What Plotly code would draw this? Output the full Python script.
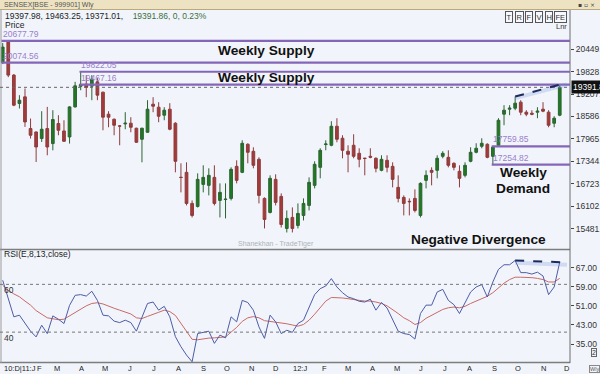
import pandas as pd
import plotly.graph_objects as go

# ---------------- data ----------------
dates = pd.date_range("2010-12-31", periods=101, freq="7D")

opens = [20075, 20643, 19729, 18945, 19128, 18252, 18158, 17976, 18252, 17837,
         18391, 18186, 18020, 18851, 19420, 19480, 19424, 19543, 19258, 18649,
         18510, 18325, 18380, 18399, 18261, 17956, 18150, 18925, 18842, 18621,
         18787, 18399, 16905, 17042, 16183, 16100, 16709, 16682, 16903, 16266,
         16290, 16322, 17208, 17042, 17817, 17624, 17402, 16322, 15934, 16848,
         16377, 15491, 15796, 15574, 15851, 16128, 16682, 17180, 17810, 17790,
         18316, 17984, 17624, 17790, 17568, 17435, 17485, 17430, 17097, 17374,
         17208, 16627, 16349, 16240, 16322, 15851, 16820, 17097, 17097, 17485,
         17457, 17291, 17070, 16959, 17347, 17596, 17762, 17817, 17485, 17790,
         18649, 18787, 18815, 18981, 18704, 18676, 18704, 18787, 18704, 18399,
         18621]
highs = [20615, 20678, 19760, 19175, 19360, 18529, 18170, 18732, 18851, 18759,
         18621, 18482, 18870, 19543, 19822, 19729, 19729, 19646, 19270, 18732,
         18530, 18344, 18704, 18566, 18275, 18275, 19036, 19119, 18981, 18842,
         18953, 18427, 17291, 17319, 16266, 17014, 17236, 17153, 17236, 16737,
         16737, 17180, 17374, 17928, 17845, 17734, 17457, 16349, 16959, 16987,
         16460, 15989, 16073, 16183, 16322, 16903, 17347, 17707, 17928, 18455,
         18538, 18067, 17790, 18094, 17707, 17440, 17707, 17457, 17513, 17513,
         17319, 16959, 16405, 16322, 16571, 16765, 17097, 17180, 17513, 17624,
         17651, 17319, 17236, 17319, 17734, 17845, 17984, 17845, 17760, 18538,
         18898, 18898, 19137, 19036, 18759, 18759, 18842, 18981, 18759, 18593,
         19463.25]
lows = [20034, 19673, 18870, 18806, 18297, 17976, 17327, 17881, 17513, 17651,
        18067, 17881, 17837, 18830, 19310, 19119, 19036, 19036, 18205, 18288,
        18067, 17790, 18233, 18150, 17860, 17319, 18140, 18704, 18427, 18482,
        18205, 17042, 16488, 16128, 15796, 16070, 16488, 16405, 16128, 15796,
        15768, 16266, 16737, 17020, 17291, 17153, 16183, 15491, 15906, 16128,
        15518, 15380, 15380, 15491, 15712, 15989, 16599, 16876, 17651, 17762,
        17873, 17430, 17042, 17430, 17180, 16959, 17430, 17042, 17070, 17042,
        16627, 16211, 15851, 15851, 15934, 15796, 16599, 16682, 16876, 17430,
        17180, 17097, 16627, 16903, 17319, 17568, 17707, 17430, 17255, 17762,
        18344, 18621, 18759, 18621, 18593, 18621, 18538, 18704, 18288, 18288,
        18593]
closes = [20504, 19729, 18898, 19036, 18435, 18067, 17743, 18233, 17743, 18502,
          18205, 17901, 18851, 19433, 19467, 19390, 19618, 19175, 18566, 18566,
          18344, 18320, 18400, 18288, 17873, 18261, 18787, 18870, 18593, 18759,
          18233, 17347, 16900, 16183, 15851, 16848, 16903, 16959, 16183, 16488,
          16300, 17125, 16820, 17845, 17596, 17236, 16405, 15740, 16876, 16211,
          15601, 15768, 15491, 15906, 16183, 16765, 17264, 17651, 17825, 18316,
          17956, 17651, 17540, 17485, 17402, 17425, 17460, 17152, 17402, 17180,
          16848, 16322, 16183, 16230, 15989, 16737, 16959, 17042, 17430, 17568,
          17236, 17180, 16876, 17236, 17596, 17707, 17845, 17457, 17740, 18482,
          18759, 18815, 18953, 18704, 18649, 18649, 18732, 18732, 18344, 18538,
          19391.86]

rsi = [61.7, 54.0, 46.4, 47.1, 43.6, 40.4, 38.0, 42.9, 39.4, 46.8,
       45.4, 43.6, 51.2, 55.4, 55.7, 55.1, 57.1, 53.3, 47.1, 46.8,
       44.6, 44.0, 45.0, 44.0, 40.4, 46.4, 52.0, 52.6, 49.2, 50.8,
       46.4, 38.1, 33.9, 30.4, 27.6, 39.4, 39.9, 40.4, 35.3, 38.75,
       37.6, 46.4, 44.3, 53.3, 52.4, 49.2, 42.2, 37.4, 47.1, 44.3,
       39.4, 40.8, 39.9, 43.6, 45.0, 50.6, 55.7, 58.2, 59.3, 62.4,
       58.9, 56.5, 54.7, 54.0, 52.9, 52.6, 53.8, 49.2, 52.4, 50.1,
       45.4, 40.4, 39.4, 39.0, 37.1, 47.8, 51.3, 51.3, 56.8, 57.9,
       53.3, 51.5, 47.8, 52.0, 56.8, 58.9, 59.9, 54.7, 61.0, 66.25,
       68.2, 68.2, 70.0, 64.9, 64.9, 64.3, 65.1, 63.5, 55.7, 58.9,
       69.3]
rsi_ma = [59.6, 57.5, 56.0, 54.8, 53.0, 51.3, 49.0, 47.5, 46.0, 45.6,
          45.2, 45.4, 46.8, 48.3, 49.5, 51.0, 52.0, 52.3, 51.8, 50.8,
          50.0, 49.2, 48.5, 47.6, 46.0, 45.7, 46.6, 47.6, 48.3, 49.2,
          48.6, 47.0, 43.5, 40.0, 37.0, 36.8, 37.2, 37.5, 37.6, 37.8,
          38.0, 40.0, 42.0, 44.5, 46.0, 46.5, 46.0, 44.8, 44.5, 44.3,
          44.0, 43.5, 43.0, 42.5, 43.2, 45.0, 47.5, 50.5, 53.0, 54.5,
          54.5, 54.3, 54.0, 53.5, 53.3, 53.0, 53.0, 52.6, 52.0, 51.0,
          49.5, 47.8, 46.0, 44.8, 43.2, 44.0, 45.8, 47.0, 48.5, 49.5,
          50.2, 50.5, 50.2, 50.8, 52.0, 53.0, 54.2, 55.0, 56.5, 58.5,
          60.5, 62.0, 63.0, 63.0, 63.0, 62.8, 62.5, 62.0, 61.0, 61.0,
          62.5]

levels = [20677.79, 20074.56, 19822.05, 19467.16, 17759.85, 17254.82]
level_start_bar = [0, 0, 14, 14, 88, 88]

price_ticks = [15481, 16102, 16723, 17344, 17965, 18586, 19207, 19828, 20449]
rsi_ticks = [35, 43, 51, 59, 67]
rsi_guides = [60, 40]

tick_dates = ["2011-01-22", "2011-02-15", "2011-03-09", "2011-04-09", "2011-05-09",
              "2011-06-09", "2011-07-09", "2011-08-09", "2011-09-09", "2011-10-09",
              "2011-11-09", "2011-12-09", "2012-01-09", "2012-02-09", "2012-03-09",
              "2012-04-09", "2012-05-09", "2012-06-09", "2012-07-09", "2012-08-09",
              "2012-09-09", "2012-10-09", "2012-11-09", "2012-12-09"]
tick_text = ["10:D|11:J", "F", "M", "A", "M", "J", "J", "A", "S", "O", "N", "D",
             "12:J", "F", "M", "A", "M", "J", "J", "A", "S", "O", "N", "D"]

header_vals = [19397.98, 19463.25, 19371.01, 19391.86, 0, 0.23]
div_start, div_end = 92, 100

# ---------------- geometry helpers (pixels -> paper) ----------------
W, H = 600, 374
ML, MR, MT, MB = 0, 30, 10, 11
PW, PH = W - ML - MR, H - MT - MB


def py(p):
    return 1 - (p - MT) / PH


def pxx(p):
    return (p - ML) / PW


FONT = "Liberation Sans"
BG = "#f1f5fb"
PURPLE = "#8466b8"

xr = [dates[0] - pd.Timedelta(days=3.4), dates[-1] + pd.Timedelta(days=12.9)]

fig = go.Figure()
fig.add_trace(go.Candlestick(
    x=dates, open=opens, high=highs, low=lows, close=closes,
    xaxis="x", yaxis="y",
    increasing=dict(fillcolor="#1f7a22", line=dict(color="#2c6330", width=1)),
    decreasing=dict(fillcolor="#a53a3a", line=dict(color="#8e3b3b", width=1)),
    whiskerwidth=0, showlegend=False, hoverinfo="skip"))
fig.add_trace(go.Scatter(x=dates, y=rsi_ma, mode="lines", xaxis="x2", yaxis="y2",
                         line=dict(color="#c86a66", width=1), showlegend=False, hoverinfo="skip"))
fig.add_trace(go.Scatter(x=dates, y=rsi, mode="lines", xaxis="x2", yaxis="y2",
                         line=dict(color="#4d5ca6", width=1), showlegend=False, hoverinfo="skip"))

shapes = []
ann = []

# title bar
shapes.append(dict(type="rect", xref="paper", yref="paper", x0=-0.01, x1=W / PW + 0.01,
                   y0=py(9.5), y1=py(-2), fillcolor="#ede3c2", line=dict(width=0), layer="above"))
shapes.append(dict(type="line", xref="paper", yref="paper", x0=0, x1=W / PW,
                   y0=py(9.5), y1=py(9.5), line=dict(color="#b9a97c", width=1)))

# panel borders
for yy in [249.5, 362.5]:
    shapes.append(dict(type="line", xref="paper", yref="paper", x0=0, x1=1,
                       y0=py(yy), y1=py(yy), line=dict(color="#7d7d7d", width=1.5)))
shapes.append(dict(type="line", xref="paper", yref="paper", x0=1, x1=1,
                   y0=0, y1=1, line=dict(color="#6d6d6d", width=1)))
shapes.append(dict(type="line", xref="paper", yref="paper", x0=pxx(1), x1=pxx(1),
                   y0=0, y1=1, line=dict(color="#9a9a9a", width=1)))

# last price dotted line
shapes.append(dict(type="line", xref="x", yref="y", x0=xr[0], x1=xr[1],
                   y0=closes[-1], y1=closes[-1], line=dict(color="#666", width=1, dash="dot")))

# supply / demand levels
for lv, sb in zip(levels, level_start_bar):
    x0 = dates[sb] - pd.Timedelta(days=1.5)
    shapes.append(dict(type="line", xref="x", yref="y", x0=x0, x1=xr[1], y0=lv, y1=lv,
                       line=dict(color=PURPLE, width=2.2)))
    ann.append(dict(x=x0, y=lv, xref="x", yref="y", xanchor="left", yanchor="bottom",
                    text=f"{lv:.2f}", showarrow=False, borderpad=0, yshift=1,
                    font=dict(family=FONT, size=8.5, color="#9a7fcb")))

# RSI guides
for g in rsi_guides:
    shapes.append(dict(type="line", xref="x2", yref="y2", x0=xr[0], x1=xr[1], y0=g, y1=g,
                       line=dict(color="#777", width=1, dash="dot")))
    ann.append(dict(x=pxx(3), y=g, xref="paper", yref="y2", xanchor="left", yanchor="top",
                    text=str(g), showarrow=False, borderpad=0,
                    font=dict(family=FONT, size=8.5, color="#333")))

# divergence lines (through bar highs / RSI values, extended a little past last bar)
ext = 1.3
x_end = dates[div_end] + pd.Timedelta(days=7 * ext)
n = div_end - div_start
hp0, hp1 = highs[div_start], highs[div_end]
hp_end = hp1 + (hp1 - hp0) / n * ext
r0, r1 = rsi[div_start], rsi[div_end]
r_end = r1 + (r1 - r0) / n * ext
shapes.append(dict(type="line", xref="x", yref="y", x0=dates[div_start], x1=x_end,
                   y0=hp0 - 45, y1=hp_end - 45, line=dict(color="rgba(110,140,215,0.25)", width=4)))
shapes.append(dict(type="line", xref="x", yref="y", x0=dates[div_start], x1=x_end,
                   y0=hp0, y1=hp_end, line=dict(color="#1b2a5c", width=2, dash="dash")))
shapes.append(dict(type="line", xref="x2", yref="y2", x0=dates[div_start], x1=x_end,
                   y0=r0 - 1.0, y1=r_end - 1.0, line=dict(color="rgba(110,140,215,0.25)", width=4)))
shapes.append(dict(type="line", xref="x2", yref="y2", x0=dates[div_start], x1=x_end,
                   y0=r0, y1=r_end, line=dict(color="#1b2a5c", width=2, dash="dash")))

# month labels under the RSI panel
for d, t in zip(tick_dates, tick_text):
    ann.append(dict(x=d, y=py(368.5), xref="x2", yref="paper", xanchor="center", yanchor="middle",
                    text=t, showarrow=False, borderpad=0,
                    font=dict(family=FONT, size=7.5, color="#222")))

# texts
ann.append(dict(x=pxx(2), y=py(4.5), xref="paper", yref="paper", xanchor="left", yanchor="middle",
                text="SENSEX[BSE - 999901] Wly", showarrow=False,
                font=dict(family=FONT, size=7, color="#555")))
ann.append(dict(x=pxx(597), y=py(4.5), xref="paper", yref="paper", xanchor="right", yanchor="middle",
                text="▪ ▫ ×", showarrow=False, font=dict(family="DejaVu Sans", size=6, color="#444")))
hv = header_vals
ann.append(dict(x=pxx(3), y=py(15.5), xref="paper", yref="paper", xanchor="left", yanchor="middle",
                text=f"{hv[0]:.2f}, {hv[1]:.2f}, {hv[2]:.2f}, &nbsp;&nbsp;&nbsp;"
                     f"<span style='color:#3d6e3d'>{hv[3]:.2f}, {hv[4]}, {hv[5]:.2f}%</span>",
                showarrow=False, font=dict(family=FONT, size=8.5, color="#222")))
ann.append(dict(x=pxx(3), y=py(25), xref="paper", yref="paper", xanchor="left", yanchor="middle",
                text="Price", showarrow=False, font=dict(family=FONT, size=8.5, color="#222")))
for lbl, xp in zip(["T", "R", "F", "V", "H", "FE"], [509, 519, 529, 539, 549, 560]):
    ann.append(dict(x=pxx(xp), y=py(17), xref="paper", yref="paper", xanchor="center", yanchor="middle",
                    text=lbl, showarrow=False, bordercolor="#555", borderwidth=1, borderpad=0.5,
                    bgcolor="#f6f8fb", font=dict(family=FONT, size=7.5, color="#333")))
ann.append(dict(x=pxx(561), y=py(26), xref="paper", yref="paper", xanchor="center", yanchor="middle",
                text="Lnr", showarrow=False, font=dict(family=FONT, size=7.5, color="#333")))

# last price box
ann.append(dict(x=1, y=closes[-1], xref="paper", yref="y", xanchor="left", yanchor="middle",
                xshift=1, text=f"{closes[-1]:.2f}", showarrow=False, bgcolor="#111", borderpad=1,
                font=dict(family=FONT, size=8.5, color="#fff")))

bold = dict(family=FONT + ", Arial", size=13.7, color="#111")
for t, xp, yp in [("<b>Weekly Supply</b>", 266, 50), ("<b>Weekly Supply</b>", 266, 78),
                  ("<b>Weekly</b>", 523, 172), ("<b>Demand</b>", 523, 189),
                  ("<b>Negative Divergence</b>", 479, 239)]:
    ann.append(dict(x=pxx(xp), y=py(yp), xref="paper", yref="paper", xanchor="center", yanchor="middle",
                    text=t, showarrow=False, font=bold))

ann.append(dict(x=pxx(276), y=py(244), xref="paper", yref="paper", xanchor="center", yanchor="middle",
                text="Shanekhan - TradeTiger", showarrow=False,
                font=dict(family=FONT, size=7, color="#aeb3b9")))
ann.append(dict(x=pxx(2), y=py(254), xref="paper", yref="paper", xanchor="left", yanchor="middle",
                text="RSI(E,8,13,close)", showarrow=False, font=dict(family=FONT, size=8.5, color="#222")))
ann.append(dict(x=pxx(594), y=py(352), xref="paper", yref="paper", xanchor="center", yanchor="middle",
                text="2", showarrow=False, bordercolor="#666", borderwidth=1, borderpad=0,
                font=dict(family=FONT, size=7, color="#333")))
ann.append(dict(x=pxx(594), y=py(368.5), xref="paper", yref="paper", xanchor="center", yanchor="middle",
                text="Wly", showarrow=False, bordercolor="#888", borderwidth=1, borderpad=0,
                font=dict(family=FONT, size=5.5, color="#555")))

axis_common = dict(showgrid=False, zeroline=False, automargin=False)
fig.update_layout(
    width=W, height=H,
    margin=dict(l=ML, r=MR, t=MT, b=MB, pad=0),
    paper_bgcolor=BG, plot_bgcolor=BG,
    showlegend=False,
    xaxis=dict(domain=[0, 1], anchor="y", range=xr, type="date",
               rangeslider=dict(visible=False), showticklabels=False, ticks="", **axis_common),
    xaxis2=dict(domain=[0, 1], anchor="y2", range=xr, type="date", matches="x",
                showticklabels=False, ticks="", **axis_common),
    yaxis=dict(domain=[py(249.5), 1], anchor="x", side="right", range=[14909, 21529],
               tickmode="array", tickvals=price_ticks, ticktext=[f"{v:.2f}" for v in price_ticks],
               ticks="outside", ticklen=3, tickcolor="#444",
               tickfont=dict(family=FONT, size=8.5, color="#333"), **axis_common),
    yaxis2=dict(domain=[0, py(250.5)], anchor="x2", side="right", range=[27.08, 74.17],
                tickmode="array", tickvals=rsi_ticks, ticktext=[f"{v:.2f}" for v in rsi_ticks],
                ticks="outside", ticklen=3, tickcolor="#444",
                tickfont=dict(family=FONT, size=8.5, color="#333"), **axis_common),
    shapes=shapes,
    annotations=ann,
)

fig.write_html("out.html", config={"displayModeBar": False},
               post_script="document.body.style.margin='0';document.body.style.overflow='hidden';")
